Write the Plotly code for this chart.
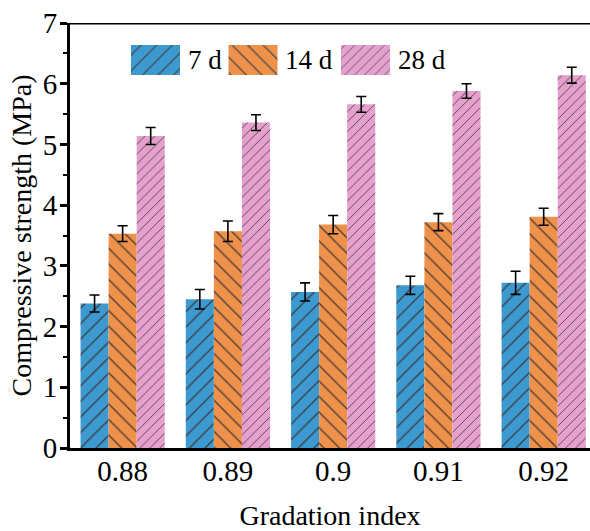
import plotly.graph_objects as go

categories = ["0.88", "0.89", "0.9", "0.91", "0.92"]
series_names = ["7 d", "14 d", "28 d"]
strength_7d = [2.38, 2.45, 2.57, 2.68, 2.72]
err_7d = [0.14, 0.16, 0.15, 0.15, 0.19]
strength_14d = [3.53, 3.57, 3.68, 3.72, 3.81]
err_14d = [0.13, 0.17, 0.15, 0.14, 0.14]
strength_28d = [5.14, 5.36, 5.66, 5.88, 6.14]
err_28d = [0.14, 0.13, 0.13, 0.12, 0.13]

colors = ["#3D9AD1", "#EE914A", "#E5A0CE"]
patterns = ["/", "\\", "/"]
pattern_sizes = [11, 11, 7]
FONT = "Liberation Serif, Times New Roman, serif"

fig = go.Figure()
for name, vals, errs, c, p, s in zip(series_names,
                                     [strength_7d, strength_14d, strength_28d],
                                     [err_7d, err_14d, err_28d],
                                     colors, patterns, pattern_sizes):
    fig.add_trace(go.Bar(
        x=categories, y=vals, name=name,
        marker=dict(color=c, line=dict(width=0),
                    pattern=dict(shape=p, size=s, solidity=0.12,
                                 fgcolor="#3a3030", fgopacity=0.9)),
        error_y=dict(type="data", array=errs, color="black", thickness=1.6, width=5),
        showlegend=False,
    ))

# custom large legend swatches drawn on a hidden overlay axis (pixel-like units)
legend_x = [85.5, 183, 295.5]
fig.add_trace(go.Bar(
    x=legend_x, y=[30, 30, 30], base=[22, 22, 22], width=[49, 49, 49],
    xaxis="x3", yaxis="y3", showlegend=False, hoverinfo="skip",
    marker=dict(color=colors, line=dict(width=0),
                pattern=dict(shape=patterns, size=pattern_sizes, solidity=0.12,
                             fgcolor="#3a3030", fgopacity=0.9)),
))
for lx, name in zip(legend_x, series_names):
    fig.add_annotation(x=lx + 30, y=37, xref="x3", yref="y3", text=name,
                       showarrow=False, xanchor="left", yanchor="middle",
                       font=dict(family=FONT, size=27, color="black"))

# y-axis title placed as annotation for exact placement
fig.add_annotation(text="Compressive strength (MPa)", textangle=-90,
                   xref="paper", yref="paper", x=(21 - 70) / 520, y=0.5,
                   xanchor="center", yanchor="middle", showarrow=False,
                   font=dict(family=FONT, size=28, color="black"))

fig.update_layout(
    width=590, height=531,
    margin=dict(l=70, r=0, t=23, b=83, autoexpand=False),
    paper_bgcolor="white", plot_bgcolor="white",
    barmode="group", bargap=0.2, bargroupgap=0,
    font=dict(family=FONT, size=28, color="black"),
    xaxis=dict(type="category", range=[-0.5, 4.44], showline=True, linewidth=3,
               linecolor="black", ticks="", showgrid=False, zeroline=False,
               ticklabelstandoff=-5,
               title=dict(text="Gradation index", font=dict(size=28), standoff=21),
               tickfont=dict(size=29)),
    yaxis=dict(range=[0, 7], dtick=1, showline=True, linewidth=3, linecolor="black",
               ticks="outside", ticklen=7, tickwidth=2.5, tickcolor="black",
               ticklabelstandoff=-3,
               minor=dict(dtick=0.5, ticks="outside", ticklen=4, tickwidth=2, tickcolor="black"),
               showgrid=False, zeroline=False,
               tickfont=dict(size=29)),
    xaxis3=dict(overlaying="x", range=[0, 520], visible=False, domain=[0, 1]),
    yaxis3=dict(overlaying="y", range=[425, 0], visible=False),
)
fig.add_shape(type="line", xref="paper", yref="y", x0=0, x1=1, y0=7, y1=7,
              line=dict(color="black", width=3))

fig.write_html("out.html", config={"displayModeBar": False},
               post_script="document.body.style.margin='0';")
